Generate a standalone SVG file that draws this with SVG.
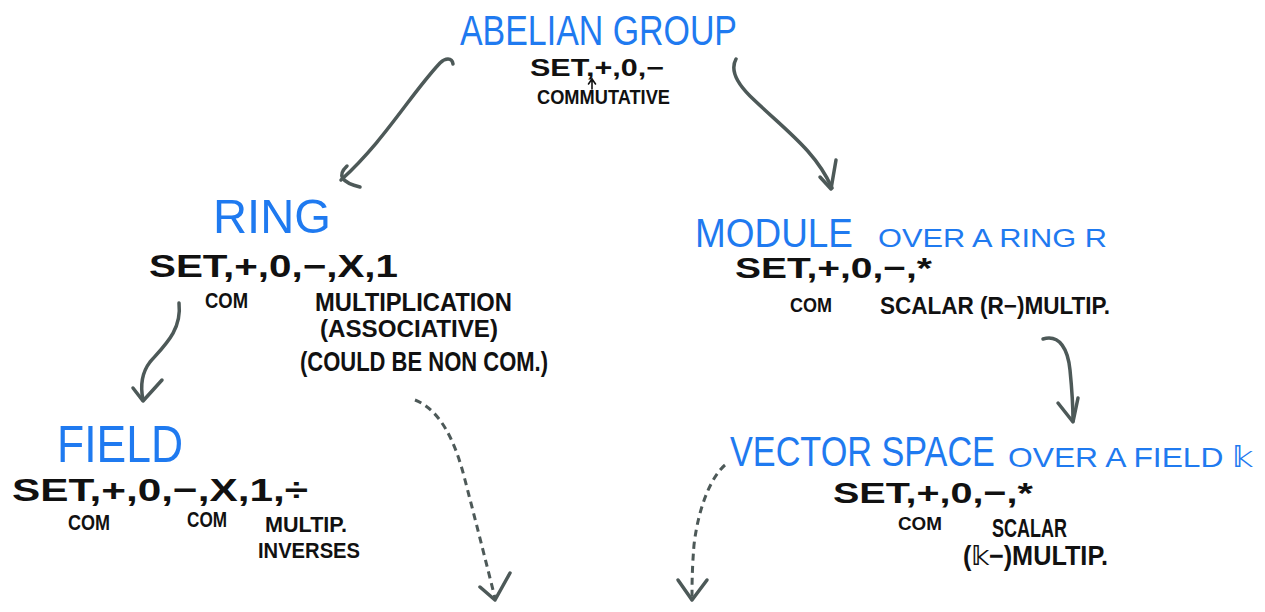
<svg xmlns="http://www.w3.org/2000/svg" width="1265" height="612" viewBox="0 0 1265 612">
<style>
.t{font-family:"Liberation Sans",Arial,sans-serif;fill:#1f7af0;}
.b{font-family:"Liberation Sans","DejaVu Sans",Arial,sans-serif;fill:#111;font-weight:bold;}
.c{fill:none;stroke:#4d5958;stroke-width:3.5;stroke-linecap:round;stroke-linejoin:round;}
.d{fill:none;stroke:#4d5958;stroke-width:3;stroke-dasharray:7 5;}
</style>
<rect width="1265" height="612" fill="#fff"/>
<g id="connectors">
<path class="c" d="M453,64 C452,57 445,58 440,63 C410,95 385,140 341,180"/>
<path class="c" d="M347,166 Q332,180 360,187"/>
<path class="c" d="M736,59 C730,70 736,82 750,96 C785,130 815,150 832,188"/>
<path class="c" d="M820,177 L831,189 L836,160"/>
<path class="c" d="M179,303 C182,330 165,345 150,362 C140,375 141,390 143,400"/>
<path class="c" d="M133,388 L143,401 L162,380"/>
<path class="c" d="M1043,339 C1060,334 1068,350 1070,370 C1072,390 1073,405 1073,421"/>
<path class="c" d="M1058,403 L1073,422 L1078,398"/>
<path class="d" d="M415,400 C440,410 455,440 465,480 C478,530 488,570 495,598"/>
<path class="c" d="M480,587 L495,600 L510,573"/>
<path class="d" d="M725,465 C710,478 698,510 694,545 C692,570 692,585 692,598"/>
<path class="c" d="M678,580 L692,600 L707,580"/>
</g>
<g id="abelian-group">
<text class="t" x="460" y="45" font-size="42" textLength="277" lengthAdjust="spacingAndGlyphs">ABELIAN GROUP</text>
<text class="b" x="530" y="76" font-size="23" textLength="134" lengthAdjust="spacingAndGlyphs">SET,+,0,−</text>
<path d="M592,89 L592,80 M588.5,84 L592,79 L595.5,84" fill="none" stroke="#111" stroke-width="1.6" stroke-linecap="round"/>
<text class="b" x="537" y="104" font-size="20" textLength="133" lengthAdjust="spacingAndGlyphs">COMMUTATIVE</text>
</g>
<g id="ring">
<text class="t" x="213" y="233" font-size="49" textLength="118" lengthAdjust="spacingAndGlyphs">RING</text>
<text class="b" x="149" y="277" font-size="31" textLength="249" lengthAdjust="spacingAndGlyphs">SET,+,0,−,X,1</text>
<text class="b" x="205" y="308" font-size="22" textLength="43" lengthAdjust="spacingAndGlyphs">COM</text>
<text class="b" x="315" y="311" font-size="25" textLength="197" lengthAdjust="spacingAndGlyphs">MULTIPLICATION</text>
<text class="b" x="320" y="337" font-size="23" textLength="178" lengthAdjust="spacingAndGlyphs">(ASSOCIATIVE)</text>
<text class="b" x="300" y="371" font-size="28" textLength="248" lengthAdjust="spacingAndGlyphs">(COULD BE NON COM.)</text>
</g>
<g id="module">
<text class="t" x="695" y="247" font-size="40" textLength="158" lengthAdjust="spacingAndGlyphs">MODULE</text>
<text class="t" x="878" y="247" font-size="26" textLength="229" lengthAdjust="spacingAndGlyphs">OVER A RING R</text>
<text class="b" x="735" y="278" font-size="29" textLength="197" lengthAdjust="spacingAndGlyphs">SET,+,0,−,*</text>
<text class="b" x="790" y="312" font-size="21" textLength="42" lengthAdjust="spacingAndGlyphs">COM</text>
<text class="b" x="880" y="314" font-size="23" textLength="230" lengthAdjust="spacingAndGlyphs">SCALAR (R−)MULTIP.</text>
</g>
<g id="field">
<text class="t" x="57" y="462" font-size="52" textLength="126" lengthAdjust="spacingAndGlyphs">FIELD</text>
<text class="b" x="12" y="501" font-size="32" textLength="296" lengthAdjust="spacingAndGlyphs">SET,+,0,−,X,1,÷</text>
<text class="b" x="68" y="530" font-size="22" textLength="42" lengthAdjust="spacingAndGlyphs">COM</text>
<text class="b" x="187" y="527" font-size="22" textLength="40" lengthAdjust="spacingAndGlyphs">COM</text>
<text class="b" x="265" y="532" font-size="22" textLength="82" lengthAdjust="spacingAndGlyphs">MULTIP.</text>
<text class="b" x="258" y="558" font-size="22" textLength="102" lengthAdjust="spacingAndGlyphs">INVERSES</text>
</g>
<g id="vector-space">
<text class="t" transform="translate(730,466) scale(0.815,1)" font-size="42">VECTOR SPACE</text>
<text class="t" x="1008" y="467" font-size="28" textLength="245" lengthAdjust="spacingAndGlyphs" style="font-family:'Liberation Sans','DejaVu Sans',sans-serif">OVER A FIELD 𝕜</text>
<text class="b" x="833" y="503" font-size="30" textLength="200" lengthAdjust="spacingAndGlyphs">SET,+,0,−,*</text>
<text class="b" x="898" y="530" font-size="19" textLength="44" lengthAdjust="spacingAndGlyphs">COM</text>
<text class="b" x="992" y="537" font-size="25" textLength="75" lengthAdjust="spacingAndGlyphs">SCALAR</text>
<text class="b" x="963" y="565" font-size="27" textLength="145" lengthAdjust="spacingAndGlyphs">(𝕜−)MULTIP.</text>
</g>
</svg>
